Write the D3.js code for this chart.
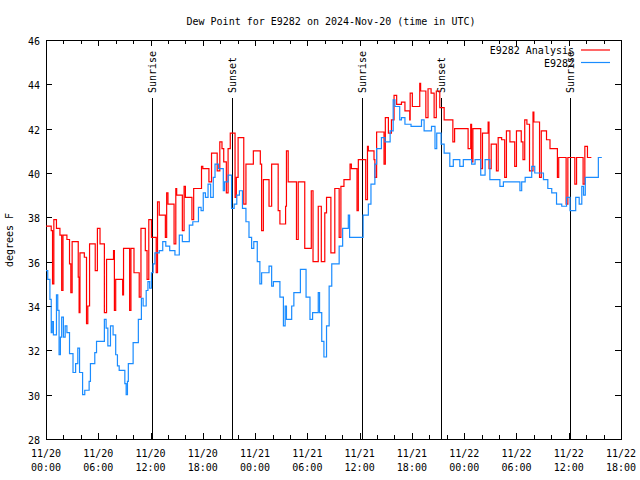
<!DOCTYPE html>
<html><head><meta charset="utf-8">
<script src="https://cdn.jsdelivr.net/npm/d3@7"></script>
<style>body{margin:0;background:#fff}svg{display:block}text{font-family:"DejaVu Sans Mono","Liberation Mono",monospace;font-size:10px;fill:#000}</style>
</head><body><svg id="c" width="640" height="480"></svg>
<script>
// hours since 2024-11-20 00:00 UTC, dew point °F
const analysisSeries = [[0.0,37.6],[0.6,37.4],[0.75,35.0],[0.9,37.9],[1.2,37.5],[1.6,37.2],[1.8,34.7],[1.95,37.2],[2.4,37.0],[2.7,35.9],[2.85,34.6],[3.0,36.9],[3.5,36.9],[3.7,35.3],[3.8,33.7],[3.9,36.4],[4.4,36.2],[4.65,33.2],[4.8,34.0],[5.0,36.8],[5.65,35.6],[5.9,37.5],[6.2,36.8],[6.7,33.7],[6.95,36.1],[7.75,36.5],[7.85,33.8],[8.0,35.2],[8.8,34.5],[8.9,36.6],[9.6,33.8],[9.75,36.6],[10.1,35.5],[10.7,34.4],[10.9,37.5],[11.4,36.5],[11.6,35.2],[11.8,37.9],[12.1,37.1],[12.65,35.5],[12.8,38.7],[13.0,38.1],[13.7,37.1],[13.85,39.1],[14.0,38.6],[14.7,36.8],[14.9,39.3],[15.0,39.0],[15.65,37.4],[15.85,39.4],[16.0,38.9],[16.75,37.9],[16.95,39.3],[17.85,40.3],[18.0,40.2],[18.7,39.6],[19.0,40.9],[19.65,40.1],[19.95,41.4],[20.2,41.1],[20.4,40.5],[20.7,39.1],[20.9,41.1],[21.15,41.8],[21.7,38.9],[21.85,39.8],[22.05,41.6],[22.7,38.6],[22.95,40.4],[23.8,41.0],[24.6,40.4],[24.75,37.4],[24.95,39.7],[25.6,38.5],[25.9,40.4],[26.65,38.3],[26.85,37.7],[27.5,38.5],[27.6,41.0],[27.8,39.6],[28.75,37.0],[28.95,39.6],[29.7,36.6],[30.45,39.2],[30.65,36.0],[31.25,38.5],[31.6,36.0],[32.0,38.2],[32.2,38.9],[32.7,36.4],[33.15,39.3],[33.65,37.1],[33.85,39.4],[34.2,39.7],[34.9,40.4],[35.05,40.2],[35.7,38.3],[35.85,40.6],[36.7,38.8],[36.9,41.2],[37.0,41.0],[37.65,40.6],[37.75,39.8],[37.95,41.85],[38.8,40.4],[38.95,42.5],[39.3,41.8],[39.65,42.4],[39.95,43.5],[40.25,43.1],[40.8,43.2],[41.2,42.8],[41.75,42.4],[41.8,43.6],[42.05,43.0],[42.9,44.05],[43.0,43.7],[43.6,42.5],[43.85,43.8],[44.2,43.6],[44.55,42.5],[44.8,43.7],[45.2,42.95],[45.7,42.4],[46.7,41.4],[46.9,42.0],[47.9,42.0],[48.45,41.1],[48.75,42.2],[48.85,40.5],[49.0,42.0],[49.9,40.2],[50.1,41.8],[50.75,42.3],[50.85,40.2],[51.1,41.3],[51.7,40.1],[51.9,41.6],[52.3,41.5],[52.65,39.8],[52.85,41.9],[53.25,41.4],[53.8,40.3],[54.0,41.9],[54.55,41.4],[54.75,40.6],[54.95,42.4],[55.2,42.2],[55.5,40.1],[55.9,42.75],[56.0,42.3],[56.65,39.8],[56.85,41.9],[57.45,41.5],[57.85,41.1],[58.7,39.8],[58.85,40.7],[59.7,38.6],[59.9,40.7],[60.7,39.5],[60.9,40.7],[61.65,39.5],[61.85,41.2],[62.15,40.7],[62.6,40.7]];
const stationSeries = [[0.0,35.6],[0.2,35.2],[0.45,34.3],[0.6,32.8],[0.7,33.3],[0.85,32.7],[1.2,34.5],[1.35,33.8],[1.5,31.8],[1.65,32.6],[1.8,33.5],[2.0,32.6],[2.2,33.1],[2.4,32.8],[2.7,31.85],[3.1,31.0],[3.4,31.4],[3.65,32.1],[3.85,31.0],[4.2,30.0],[4.45,30.2],[4.95,30.6],[5.1,31.4],[5.6,31.9],[5.8,32.4],[6.7,33.4],[6.9,33.0],[7.1,32.2],[7.4,33.1],[7.7,32.7],[8.0,31.8],[8.2,31.3],[8.4,31.1],[9.05,30.5],[9.2,30.0],[9.35,30.6],[9.45,31.4],[10.0,32.35],[10.6,33.4],[10.95,34.35],[11.15,34.0],[11.5,34.7],[11.7,35.1],[11.9,34.8],[12.1,35.5],[12.3,35.9],[12.5,36.4],[13.0,36.5],[13.4,36.9],[13.75,36.7],[14.2,36.5],[14.8,36.3],[15.3,37.2],[15.65,36.9],[16.15,36.9],[16.45,37.65],[16.85,37.8],[17.5,38.45],[17.8,38.3],[18.05,39.1],[18.3,38.9],[18.6,39.5],[18.9,38.9],[19.2,39.8],[19.4,40.4],[19.8,40.2],[20.35,39.2],[20.5,39.6],[20.9,39.9],[21.3,38.4],[21.6,38.6],[21.9,39.0],[22.2,39.2],[22.55,38.4],[22.95,37.8],[23.3,37.1],[23.6,36.6],[23.85,36.9],[24.25,36.0],[24.55,35.0],[24.75,35.5],[25.6,35.8],[25.9,34.9],[26.1,35.1],[26.85,34.4],[27.25,33.1],[27.45,34.0],[27.6,33.4],[28.2,34.0],[28.45,34.6],[29.2,35.65],[29.85,34.4],[30.3,33.4],[30.6,33.7],[31.25,34.6],[31.4,33.7],[31.65,32.4],[31.9,31.7],[32.2,33.1],[32.5,34.9],[32.8,35.9],[33.65,36.7],[34.05,37.5],[34.7,38.1],[34.85,37.1],[36.4,38.1],[37.0,38.6],[37.3,39.5],[37.75,40.4],[37.95,41.1],[38.5,41.6],[38.9,41.4],[39.5,41.9],[39.85,43.3],[40.05,43.0],[40.6,42.4],[40.8,42.5],[41.2,42.2],[41.9,42.1],[43.1,42.4],[43.4,41.9],[44.25,42.1],[44.65,41.1],[44.85,41.8],[45.35,41.3],[45.7,40.9],[46.35,40.3],[46.75,40.6],[47.5,40.3],[47.9,40.6],[48.85,40.4],[49.25,40.6],[49.9,39.9],[50.4,40.6],[50.95,39.7],[52.1,39.4],[52.5,39.6],[54.4,39.2],[54.6,39.6],[55.0,39.8],[55.75,40.3],[56.1,40.0],[57.1,39.7],[57.6,39.3],[58.05,39.1],[58.6,38.6],[59.2,38.5],[59.75,38.9],[60.15,38.3],[60.8,38.9],[61.2,38.6],[61.5,39.4],[61.7,39.0],[61.9,39.8],[63.4,40.7],[63.8,40.7]];
const sunEventHours = [12.13, 21.31, 36.24, 45.3, 60.15];
const sunEventLabels = ["Sunrise", "Sunset", "Sunrise", "Sunset", "Sunrise"];
const yTicks = [28, 30, 32, 34, 36, 38, 40, 42, 44, 46];
const xTickHours = [0, 6, 12, 18, 24, 30, 36, 42, 48, 54, 60, 66];
const seriesNames = ["E9282 Analysis", "E9282"];
const seriesColors = ["#ff0000", "#1a8cff"];
const titleText = "Dew Point for E9282 on 2024-Nov-20 (time in UTC)";
const yLabelText = "degrees F";

const t0 = Date.UTC(2024, 10, 20, 0, 0);
const toDate = h => new Date(t0 + h * 3600e3);
const L = 46, R = 621, T = 40, B = 439;
const x = d3.scaleUtc().domain([toDate(0), toDate(66)]).range([L, R]);
const y = d3.scaleLinear().domain([28, 46]).range([B, T]);
const svg = d3.select("#c");

svg.append("text").attr("x", 331).attr("y", 24.5).attr("text-anchor", "middle").text(titleText);
svg.append("text").attr("transform", "translate(13,240) rotate(-90)").attr("text-anchor", "middle").text(yLabelText);

const g = svg.append("g").attr("shape-rendering", "crispEdges");
// y ticks (both sides)
yTicks.forEach(v => {
  const yy = Math.round(y(v)) + 0.5;
  g.append("line").attr("x1", L).attr("x2", L + 6).attr("y1", yy).attr("y2", yy).attr("stroke", "#000");
  g.append("line").attr("x1", R - 6).attr("x2", R).attr("y1", yy).attr("y2", yy).attr("stroke", "#000");
  svg.append("text").attr("x", L - 6).attr("y", yy + 4).attr("text-anchor", "end").text(v);
});
// x ticks every 2 h (both sides), labels every 6 h
d3.range(0, 67, 2).forEach(h => {
  const xx = Math.round(x(toDate(h))) + 0.5;
  const len = h % 6 === 0 ? 6 : 4;
  g.append("line").attr("x1", xx).attr("x2", xx).attr("y1", B).attr("y2", B - len).attr("stroke", "#000");
  g.append("line").attr("x1", xx).attr("x2", xx).attr("y1", T).attr("y2", T + len).attr("stroke", "#000");
});
const fmtD = d3.utcFormat("%m/%d"), fmtT = d3.utcFormat("%H:%M");
xTickHours.forEach(h => {
  const d = toDate(h), xx = x(d);
  const t = svg.append("text").attr("text-anchor", "middle");
  t.append("tspan").attr("x", xx).attr("y", 457).text(fmtD(d));
  t.append("tspan").attr("x", xx).attr("y", 471).text(fmtT(d));
});

// sunrise/sunset lines
sunEventHours.forEach((h, i) => {
  const xx = Math.round(x(toDate(h))) + 0.5;
  g.append("line").attr("x1", xx).attr("x2", xx).attr("y1", 98).attr("y2", B).attr("stroke", "#000");
  svg.append("text").attr("transform", `translate(${xx + 3.5},93) rotate(-90)`).attr("text-anchor", "start").text(sunEventLabels[i]);
});

// series
const line = d3.line().x(d => x(toDate(d[0]))).y(d => y(d[1])).curve(d3.curveStepAfter);
[analysisSeries, stationSeries].forEach((s, i) => {
  svg.append("path").attr("d", line(s)).attr("fill", "none").attr("stroke", seriesColors[i]).attr("stroke-width", 1.2);
});

// frame
g.append("rect").attr("x", L + 0.5).attr("y", T + 0.5).attr("width", R - L).attr("height", B - T).attr("fill", "none").attr("stroke", "#000");

// legend
seriesNames.forEach((n, i) => {
  const ly = 50 + i * 12.5;
  svg.append("text").attr("x", 574).attr("y", ly + 4).attr("text-anchor", "end").text(n);
  svg.append("line").attr("x1", 581).attr("x2", 610).attr("y1", ly).attr("y2", ly).attr("stroke", seriesColors[i]).attr("stroke-width", 1.2);
});
</script></body></html>
